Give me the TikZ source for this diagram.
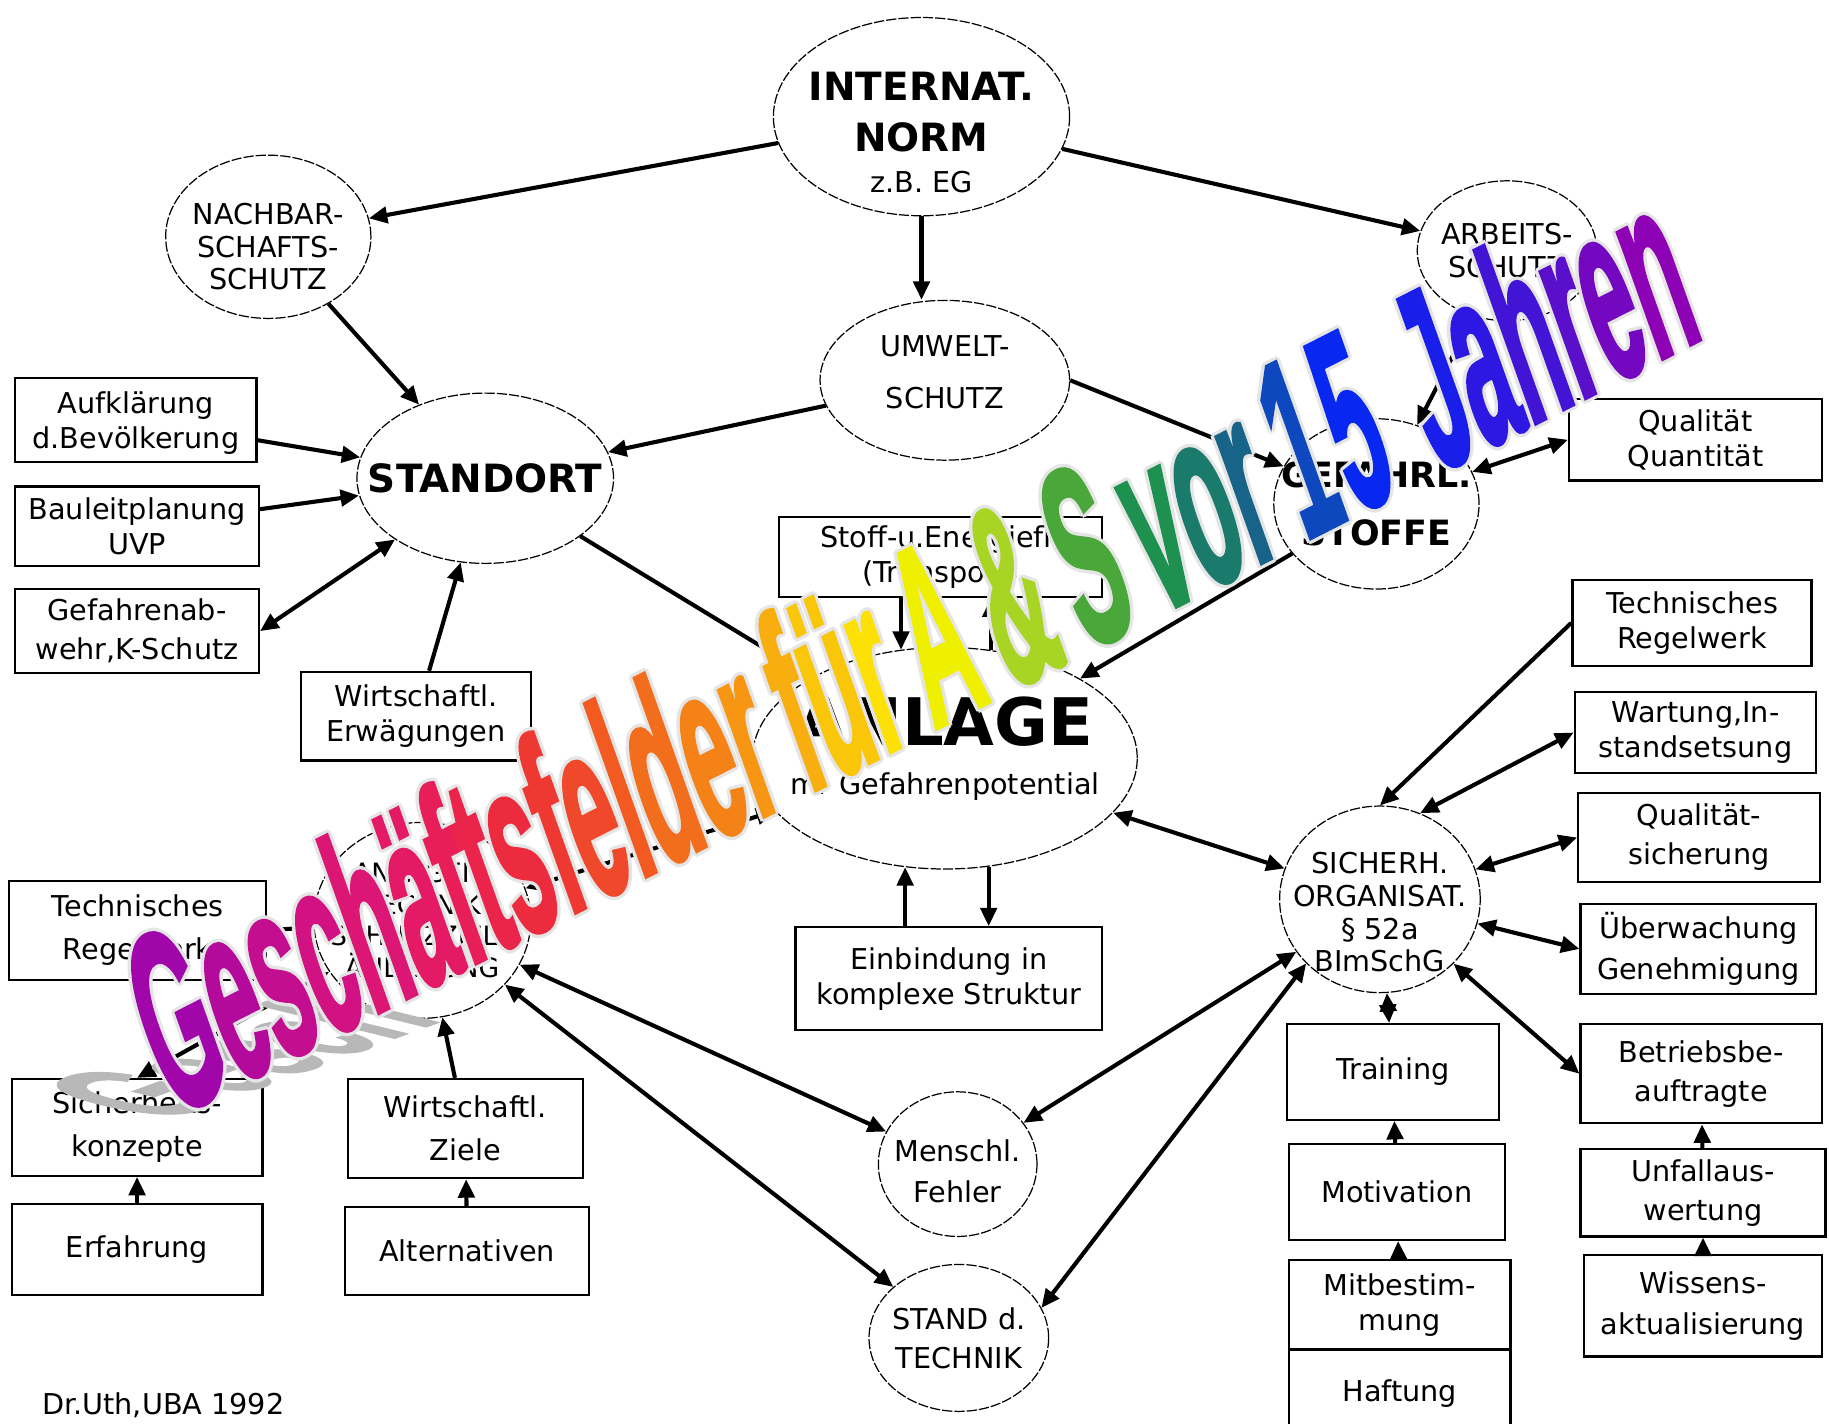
\documentclass[tikz,border=0pt]{standalone}
\usepackage{fontspec}
\setmainfont{DejaVu Sans}
\newfontfamily\wafont{Liberation Sans}[FakeBold=2]
\usetikzlibrary{arrows.meta,shapes.geometric}

% Schriftzug quer ueber das Bild, Buchstabe fuer Buchstabe eingefaerbt
\newcommand\wafarbe[2]{{\color[HTML]{#1}#2}}
\newcommand\walucke{\hspace{0.22em}}
\newcommand\watitel{%
\wafarbe{A006AA}{G}\wafarbe{B40A9C}{e}\wafarbe{C40E90}{s}\wafarbe{D21282}{c}\wafarbe{DC1674}{h}\wafarbe{E41A66}{ä}\wafarbe{E81E58}{f}\wafarbe{EA244A}{t}\wafarbe{EC2C3E}{s}\wafarbe{EE3832}{f}\wafarbe{F0482A}{e}\wafarbe{F25A22}{l}\wafarbe{F36E1C}{d}\wafarbe{F58216}{e}\wafarbe{F69612}{r}\walucke
\wafarbe{F8AE0E}{f}\wafarbe{FAC60A}{ü}\wafarbe{FCE006}{r}\walucke
\wafarbe{EEF000}{A}\walucke\wafarbe{A8D424}{\&}\walucke\wafarbe{4AA83A}{S}\walucke
\wafarbe{1E9050}{v}\wafarbe{1A7A6C}{o}\wafarbe{186488}{r}\walucke
\wafarbe{0E48BE}{1}\hspace{0.08em}\wafarbe{0828F2}{5}\hspace{0.45em}%
\wafarbe{1A1EEA}{J}\wafarbe{2C18E2}{a}\wafarbe{4214D6}{h}\wafarbe{5A10CA}{r}\wafarbe{7408C0}{e}\wafarbe{8E02B6}{n}}
\newcommand\wahalo{{\renewcommand\wafarbe[2]{##2}\watitel}}

\begin{document}
\begin{tikzpicture}[x=0.02cm, y=-0.02cm,
    kreis/.style={draw, ellipse, line width=0.6pt, dash pattern=on 5pt off 1pt, align=center, inner sep=-15pt, font=\fontsize{14}{16}\selectfont},
    kasten/.style={draw, rectangle, line width=1.1pt, align=center, inner sep=0pt, font=\fontsize{14}{17}\selectfont},
    pfeil/.style={line width=2pt, -{Triangle[length=9pt,width=8pt]}},
    doppel/.style={line width=2pt, {Triangle[length=9pt,width=8pt]}-{Triangle[length=9pt,width=8pt]}},
    wordart/.style={anchor=base west, inner sep=0pt, rotate=27, xslant=0.13, xscale=0.385, yscale=1.05, font=\wafont\bfseries\fontsize{116}{116}\selectfont}]
    \useasboundingbox (0,0) rectangle (1568,1220);
    \fill[white] (0,0) rectangle (1568,1220);

    % Kreise
    \node[kreis, minimum width=5.08cm, minimum height=3.4cm, font=\fontsize{19}{25}\selectfont\bfseries] (norm) at (790,100) {\rule{0pt}{29pt}INTERNAT.\\NORM\\[-5pt]{\mdseries\fontsize{14}{16}\selectfont z.B. EG}};
    \node[kreis, minimum width=3.52cm, minimum height=2.8cm] (nachbar) at (230,203) {\rule{0pt}{20pt}NACHBAR-\\SCHAFTS-\\SCHUTZ};
    \node[kreis, minimum width=3.08cm, minimum height=2.4cm] (arbeit) at (1292,215) {ARBEITS-\\SCHUTZ};
    \node[kreis, minimum width=4.28cm, minimum height=2.74cm] (umwelt) at (810,326) {UMWELT-\\[9pt]SCHUTZ\rule[-8pt]{0pt}{0pt}};
    \node[kreis, minimum width=4.4cm, minimum height=2.92cm, font=\fontsize{19}{23}\selectfont\bfseries] (standort) at (416,410) {STANDORT};
    \node[kreis, minimum width=3.52cm, minimum height=2.92cm, font=\fontsize{17}{28}\selectfont\bfseries] (gefahr) at (1180,432) {GEFAHRL.\\STOFFE};
    \node[kreis, minimum width=6.6cm, minimum height=3.8cm, font=\fontsize{32}{24}\selectfont\bfseries] (anlage) at (810,650) {ANLAGE\\{\mdseries\fontsize{14}{16}\selectfont m. Gefahrenpotential}\rule[-12pt]{0pt}{0pt}};
    \node[kreis, minimum width=3.72cm, minimum height=3.36cm, font=\fontsize{13}{15.5}\selectfont] (anltech) at (362,789) {ANLAGEN-\\TECHNIK\\SCHUTZZIELE\\ÄNDERUNG};
    \node[kreis, minimum width=3.44cm, minimum height=3.2cm] (sicherh) at (1183,771) {\rule{0pt}{23pt}SICHERH.\\ORGANISAT.\\§ 52a\\BImSchG};
    \node[kreis, minimum width=2.72cm, minimum height=2.48cm] (mensch) at (821,998) {\rule{0pt}{17.5pt}Menschl.\\[4pt]Fehler};
    \node[kreis, minimum width=3.08cm, minimum height=2.52cm] (stand) at (822,1147) {STAND d.\\[3pt]TECHNIK};

    % Kaesten links
    \node[kasten, minimum width=4.14cm, minimum height=1.44cm] (aufkl) at (116.5,360) {\rule{0pt}{14pt}Aufklärung\\d.Bevölkerung};
    \node[kasten, minimum width=4.18cm, minimum height=1.36cm] (baul) at (117.5,451) {Bauleitplanung\\UVP};
    \node[kasten, minimum width=4.18cm, minimum height=1.44cm] (gefabw) at (117.5,541) {Gefahrenab-\\[2pt]wehr,K-Schutz};
    \node[kasten, minimum width=3.94cm, minimum height=1.52cm] (wirtErw) at (356.5,614) {Wirtschaftl.\\Erwägungen};
    \node[kasten, minimum width=4.4cm, minimum height=1.7cm] (techL) at (118,797.5) {Technisches\\[4pt]Regelwerk};
    \node[kasten, minimum width=4.3cm, minimum height=1.66cm] (sicherkonz) at (117.5,966.5) {Sicherheits-\\[4pt]konzepte};
    \node[kasten, minimum width=4.04cm, minimum height=1.7cm] (wirtZiele) at (399,967.5) {Wirtschaftl.\\[4pt]Ziele};
    \node[kasten, minimum width=4.3cm, minimum height=1.56cm] (erfahrung) at (117.5,1071) {Erfahrung};
    \node[kasten, minimum width=4.18cm, minimum height=1.5cm] (altern) at (400.5,1072.5) {Alternativen};

    % Kaesten Mitte
    \node[kasten, minimum width=5.54cm, minimum height=1.38cm] (stoff) at (806.5,477.5) {Stoff-u.Energiefl.\\(Transport)};
    \node[kasten, minimum width=5.26cm, minimum height=1.76cm] (einbind) at (813.5,839) {Einbindung in\\komplexe Struktur};
    \node[kasten, minimum width=3.64cm, minimum height=1.64cm] (training) at (1194,919) {Training};
    \node[kasten, minimum width=3.7cm, minimum height=1.64cm] (motiv) at (1197.5,1022) {Motivation};
    \node[kasten, minimum width=3.8cm, minimum height=1.54cm] (mitbest) at (1200,1118.5) {Mitbestim-\\mung};
    \node[kasten, minimum width=3.8cm, minimum height=1.5cm] (haftung) at (1200,1194.5) {Haftung};

    % Kaesten rechts
    \node[kasten, minimum width=4.34cm, minimum height=1.4cm] (qual) at (1453.5,377) {Qualität\\Quantität};
    \node[kasten, minimum width=4.1cm, minimum height=1.48cm] (techR) at (1450.5,534) {Technisches\\Regelwerk};
    \node[kasten, minimum width=4.14cm, minimum height=1.4cm] (wartung) at (1453.5,628) {Wartung,In-\\standsetsung};
    \node[kasten, minimum width=4.14cm, minimum height=1.52cm] (qualsich) at (1456.5,718) {Qualität-\\[2pt]sicherung};
    \node[kasten, minimum width=4.04cm, minimum height=1.54cm] (ueberw) at (1456,813.5) {Überwachung\\[3pt]Genehmigung};
    \node[kasten, minimum width=4.14cm, minimum height=1.7cm] (betrieb) at (1458.5,920.5) {Betriebsbe-\\[2pt]auftragte};
    \node[kasten, minimum width=4.2cm, minimum height=1.5cm] (unfall) at (1460,1022.5) {Unfallaus-\\[2pt]wertung};
    \node[kasten, minimum width=4.08cm, minimum height=1.74cm] (wissen) at (1460,1119.5) {Wissens-\\[3pt]aktualisierung};

    \node[font=\fontsize{14}{16}\selectfont] (quelle) at (140,1205) {Dr.Uth,UBA 1992};

    % Pfeile oben
    \draw[pfeil] (norm) -- (nachbar);
    \draw[pfeil] (norm) -- (arbeit);
    \draw[pfeil] (norm.south) -- (norm.south |- umwelt.north);
    \draw[pfeil] (nachbar) -- (standort);
    \draw[pfeil] (umwelt) -- (standort);
    \draw[pfeil] (umwelt.east) -- (gefahr);
    \draw[pfeil] (arbeit) -- (gefahr);
    \draw[doppel] (gefahr) -- (qual.west);
    \draw[pfeil] (gefahr) -- (anlage);
    \draw[pfeil] (standort) -- (anlage);

    % Pfeile zum Standort
    \draw[pfeil] (aufkl) -- (standort);
    \draw[pfeil] (baul) -- (standort);
    \draw[doppel] (gefabw.east) -- (standort);
    \draw[pfeil] (wirtErw) -- (standort);

    % Anlage
    \draw[pfeil] (stoff.south -| anlage.112) -- (anlage.112);
    \draw[pfeil] (anlage.67) -- (anlage.67 |- stoff.south);
    \draw[pfeil] (anlage.250 |- einbind.north) -- (anlage.250);
    \draw[pfeil] (anlage.292) -- (anlage.292 |- einbind.north);
    \draw[doppel] (anlage) -- (sicherh);
    \draw[doppel] (anltech) -- (anlage);

    % Sicherheitsorganisation
    \draw[pfeil] (techR.west) -- (sicherh.north);
    \draw[doppel] (wartung.west) -- (sicherh.65);
    \draw[doppel] (qualsich.west) -- (sicherh);
    \draw[doppel] (ueberw.west) -- (sicherh);
    \draw[doppel] (betrieb.west) -- (sicherh);
    \draw[doppel] (sicherh) -- (training);
    \draw[pfeil] (motiv) -- (training);
    \draw[pfeil] (mitbest) -- (motiv);
    \draw[pfeil] (unfall) -- (betrieb);
    \draw[pfeil] (wissen) -- (unfall);
    \draw[doppel] (sicherh) -- (mensch);
    \draw[doppel] (sicherh.221) -- (stand.20);

    % Anlagentechnik
    \draw[doppel] (anltech) -- (mensch);
    \draw[doppel] (anltech) -- (stand);
    \draw[pfeil] (wirtZiele) -- (anltech);
    \draw[pfeil] (altern) -- (wirtZiele);
    \draw[pfeil] (erfahrung) -- (sicherkonz);
    \draw[pfeil] (techL.east) -- (anltech);
    \draw[doppel] (anltech) -- (sicherkonz.north);

    % Schriftzug mit Schatten und hellem Rand
    \node[anchor=base west, inner sep=0pt, rotate=20, xslant=-1.5, yscale=0.45, xscale=0.41, text=black!28, font=\wafont\bfseries\fontsize{116}{116}\selectfont] (schatten) at (140,962) {Gesch};
    \foreach \dx/\dy [count=\i] in {3/0,-3/0,0/3,0/-3,2/2,2/-2,-2/2,-2/-2}
        \node[wordart, text=black!10] (halo\i) at ([shift={(\dx,\dy)}]148,958) {\wahalo};
    \node[wordart] (titel) at (148,958) {\watitel};
\end{tikzpicture}
\end{document}
